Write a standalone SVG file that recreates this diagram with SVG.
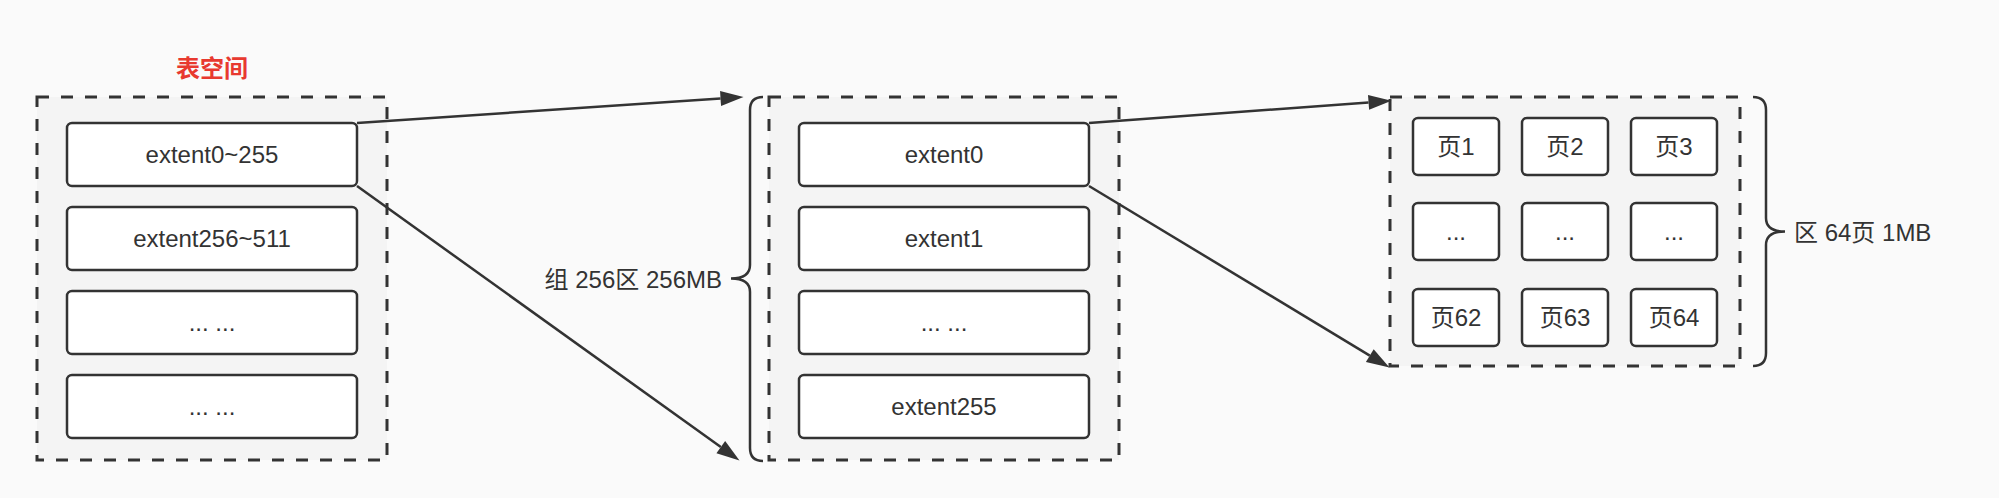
<svg xmlns="http://www.w3.org/2000/svg" width="1999" height="498" viewBox="0 0 1999 498">
  <style>
    .bg { fill: #fafafa; }
    .group { fill: #f4f4f4; stroke: #333333; stroke-width: 3; stroke-dasharray: 12 12; }
    .box { fill: #ffffff; stroke: #333333; stroke-width: 2.5; }
    .txt { font-family: "Liberation Sans", "Noto Sans CJK SC", sans-serif; font-size: 24px; fill: #333333; text-anchor: middle; }
    .title { font-family: "Noto Sans CJK SC", sans-serif; font-size: 24px; font-weight: bold; fill: #e8392f; text-anchor: middle; }
    .brace { fill: none; stroke: #333333; stroke-width: 2.5; }
    .edge { fill: none; stroke: #333333; stroke-width: 2.5; }
  </style>
  <defs>
    <marker id="arrow" markerUnits="userSpaceOnUse" markerWidth="24" markerHeight="16" refX="0" refY="7.5" orient="auto" overflow="visible">
      <path d="M0,0 L23,7.5 L0,15 Z" fill="#333333"/>
    </marker>
  </defs>
  <rect class="bg" x="0" y="0" width="1999" height="498"/>

  <g id="tablespace">
    <text class="title" x="212" y="77">表空间</text>
    <rect class="group" x="37" y="97" width="350" height="363"/>
  </g>
  <g id="ts-extent0-255">
    <rect class="box" x="67" y="123" width="290" height="63" rx="5"/>
    <text class="txt" x="212" y="163">extent0~255</text>
  </g>
  <g id="ts-extent256-511">
    <rect class="box" x="67" y="207" width="290" height="63" rx="5"/>
    <text class="txt" x="212" y="247">extent256~511</text>
  </g>
  <g id="ts-more1">
    <rect class="box" x="67" y="291" width="290" height="63" rx="5"/>
    <text class="txt" x="212" y="331">... ...</text>
  </g>
  <g id="ts-more2">
    <rect class="box" x="67" y="375" width="290" height="63" rx="5"/>
    <text class="txt" x="212" y="415">... ...</text>
  </g>

  <g id="group">
    <rect class="group" x="769" y="97" width="350" height="363"/>
    <path class="brace" d="M763,97 Q750,97 750,110 L750,265 Q750,278.5 731,278.5 Q750,278.5 750,292 L750,448 Q750,461 763,461"/>
    <text class="txt" x="722" y="288" style="text-anchor:end">组 256区 256MB</text>
  </g>
  <g id="g-extent0">
    <rect class="box" x="799" y="123" width="290" height="63" rx="5"/>
    <text class="txt" x="944" y="163">extent0</text>
  </g>
  <g id="g-extent1">
    <rect class="box" x="799" y="207" width="290" height="63" rx="5"/>
    <text class="txt" x="944" y="247">extent1</text>
  </g>
  <g id="g-more">
    <rect class="box" x="799" y="291" width="290" height="63" rx="5"/>
    <text class="txt" x="944" y="331">... ...</text>
  </g>
  <g id="g-extent255">
    <rect class="box" x="799" y="375" width="290" height="63" rx="5"/>
    <text class="txt" x="944" y="415">extent255</text>
  </g>

  <g id="extent">
    <rect class="group" x="1390" y="97" width="350" height="269"/>
    <path class="brace" d="M1753,97 Q1766,97 1766,110 L1766,218 Q1766,231.5 1785,231.5 Q1766,231.5 1766,245 L1766,353 Q1766,366 1753,366"/>
    <text class="txt" x="1794" y="241" style="text-anchor:start">区 64页 1MB</text>
  </g>
  <g id="page1"><rect class="box" x="1413" y="118" width="86" height="57" rx="5"/><text class="txt" x="1456" y="155">页1</text></g>
  <g id="page2"><rect class="box" x="1522" y="118" width="86" height="57" rx="5"/><text class="txt" x="1565" y="155">页2</text></g>
  <g id="page3"><rect class="box" x="1631" y="118" width="86" height="57" rx="5"/><text class="txt" x="1674" y="155">页3</text></g>
  <g id="pageA"><rect class="box" x="1413" y="203" width="86" height="57" rx="5"/><text class="txt" x="1456" y="240">...</text></g>
  <g id="pageB"><rect class="box" x="1522" y="203" width="86" height="57" rx="5"/><text class="txt" x="1565" y="240">...</text></g>
  <g id="pageC"><rect class="box" x="1631" y="203" width="86" height="57" rx="5"/><text class="txt" x="1674" y="240">...</text></g>
  <g id="page62"><rect class="box" x="1413" y="289" width="86" height="57" rx="5"/><text class="txt" x="1456" y="326">页62</text></g>
  <g id="page63"><rect class="box" x="1522" y="289" width="86" height="57" rx="5"/><text class="txt" x="1565" y="326">页63</text></g>
  <g id="page64"><rect class="box" x="1631" y="289" width="86" height="57" rx="5"/><text class="txt" x="1674" y="326">页64</text></g>

  <g id="connectors">
    <path class="edge" d="M357,123 L720.55,98.54" marker-end="url(#arrow)"/>
    <path class="edge" d="M357,186 L720.8,447.1" marker-end="url(#arrow)"/>
    <path class="edge" d="M1089,123 L1368.56,102.39" marker-end="url(#arrow)"/>
    <path class="edge" d="M1089,186 L1369.8,355.6" marker-end="url(#arrow)"/>
  </g>
</svg>
